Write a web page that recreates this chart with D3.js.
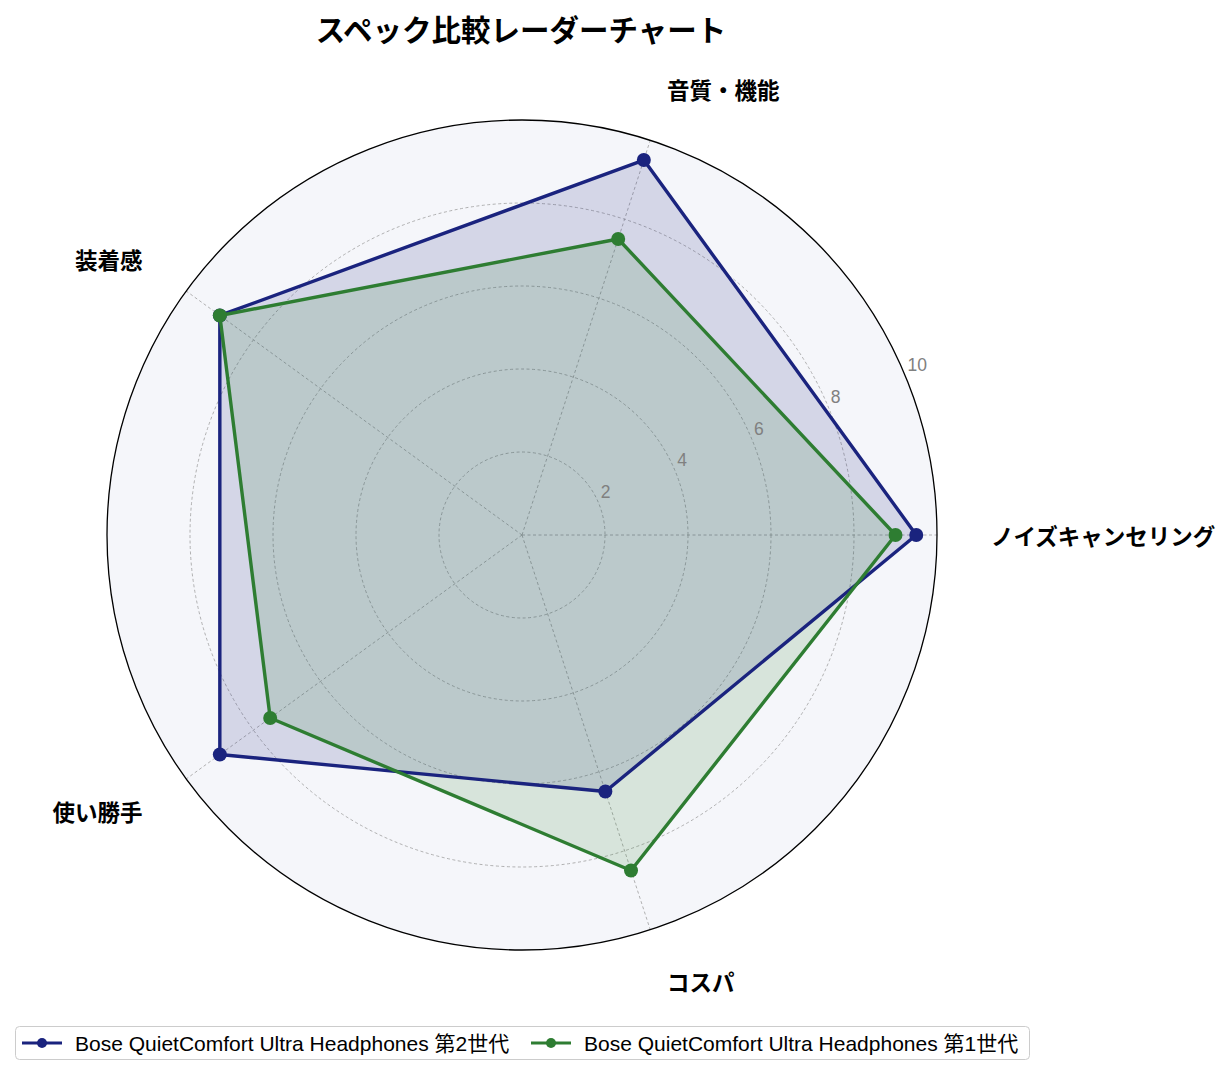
<!DOCTYPE html>
<html><head><meta charset="utf-8">
<script src="https://cdn.jsdelivr.net/npm/d3@7"></script>
<style>body{margin:0;background:#fff}svg{display:block}text{font-family:"Noto Sans CJK JP","Noto Sans",sans-serif}.lat{font-family:"Liberation Sans","Noto Sans CJK JP",sans-serif}</style>
</head><body>
<svg id="c" width="1232" height="1076"></svg>
<script>
const categories = ["ノイズキャンセリング","音質・機能","装着感","使い勝手","コスパ"];
const seriesNames = ["Bose QuietComfort Ultra Headphones 第2世代","Bose QuietComfort Ultra Headphones 第1世代"];
const gen2Values = [9.5, 9.5, 9.0, 9.0, 6.5];
const gen1Values = [9.0, 7.5, 9.0, 7.5, 8.5];
const seriesColors = ["#1a237e","#2e7d32"];
const radialTicks = [2,4,6,8,10];
const titleText = "スペック比較レーダーチャート";

const svg = d3.select("#c");
const cx = 522, cy = 535, R = 415;
const r = d3.scaleLinear().domain([0,10]).range([0,R]);
const ang = d3.scaleLinear().domain([0, categories.length]).range([0, 2*Math.PI]);
const pt = (i, v) => [cx + r(v)*Math.cos(ang(i)), cy - r(v)*Math.sin(ang(i))];

const g = svg.append("g");
g.append("circle").attr("cx",cx).attr("cy",cy).attr("r",R).attr("fill","#f5f6fa");

// grid circles
g.selectAll(".grid").data(radialTicks.filter(t=>t<10)).enter().append("circle")
  .attr("cx",cx).attr("cy",cy).attr("r",d=>r(d)).attr("fill","none")
  .attr("stroke","#9e9e9e").attr("stroke-width",0.8).attr("stroke-dasharray","3,2.5");
// spokes
g.selectAll(".spoke").data(categories).enter().append("line")
  .attr("x1",cx).attr("y1",cy)
  .attr("x2",(d,i)=>pt(i,10)[0]).attr("y2",(d,i)=>pt(i,10)[1])
  .attr("stroke","#9e9e9e").attr("stroke-width",0.8).attr("stroke-dasharray","3,2.5");

const series = [gen2Values, gen1Values];
const line = d3.line();
series.forEach((vals, s) => {
  const pts = vals.map((v,i)=>pt(i,v));
  g.append("path").attr("d", line(pts)+"Z").attr("fill",seriesColors[s]).attr("fill-opacity",0.15).attr("stroke","none");
});
series.forEach((vals, s) => {
  const pts = vals.map((v,i)=>pt(i,v));
  g.append("path").attr("d", line(pts)+"Z").attr("fill","none").attr("stroke",seriesColors[s]).attr("stroke-width",3.4).attr("stroke-linejoin","round");
  g.selectAll(null).data(pts).enter().append("circle")
    .attr("cx",d=>d[0]).attr("cy",d=>d[1]).attr("r",7).attr("fill",seriesColors[s]);
});

// outer circle
g.append("circle").attr("cx",cx).attr("cy",cy).attr("r",R).attr("fill","none").attr("stroke","#000").attr("stroke-width",1.3);

// radial tick labels
const la = Math.PI/8;
g.selectAll(".rt").data(radialTicks).enter().append("text").attr("class","lat")
  .attr("x",d=>cx + r(d)*Math.cos(la) + 2)
  .attr("y",d=>cy - r(d)*Math.sin(la) - 11)
  .attr("dominant-baseline","central")
  .attr("font-size",17.5).attr("fill","#808080").text(d=>d);

// category labels
g.selectAll(".cat").data(categories).enter().append("text")
  .attr("x",(d,i)=>cx + (R+54)*Math.cos(ang(i)))
  .attr("y",(d,i)=>cy - (R+54)*Math.sin(ang(i)))
  .attr("text-anchor",(d,i)=>Math.cos(ang(i))>=0?"start":"end")
  .attr("dominant-baseline","central")
  .attr("font-size",22.5).attr("font-weight","bold").attr("fill","#000").text(d=>d);

// title
svg.append("text").attr("x",521).attr("y",28).attr("text-anchor","middle").attr("dominant-baseline","central")
  .attr("font-size",29.5).attr("font-weight","bold").text(titleText);

// legend
const lg = svg.append("g");
lg.append("rect").attr("x",15.5).attr("y",1026.5).attr("width",1014).attr("height",33).attr("rx",4)
  .attr("fill","#fff").attr("stroke","#cccccc").attr("stroke-width",1);
const lx = [22, 531];
seriesNames.forEach((n,s)=>{
  const x0 = lx[s];
  lg.append("line").attr("x1",x0).attr("x2",x0+40).attr("y1",1043).attr("y2",1043).attr("stroke",seriesColors[s]).attr("stroke-width",3);
  lg.append("circle").attr("cx",x0+20).attr("cy",1043).attr("r",5).attr("fill",seriesColors[s]);
  lg.append("text").attr("class","lat").attr("x",x0+53).attr("y",1043).attr("dominant-baseline","central").attr("font-size",21).text(n);
});
</script>
</body></html>
